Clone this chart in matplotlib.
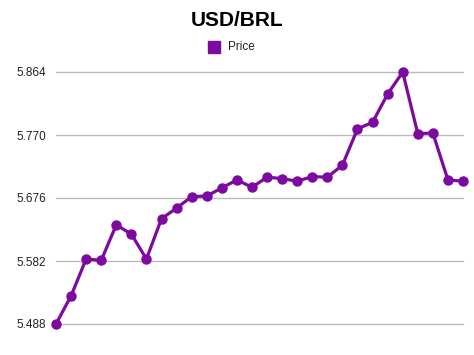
import matplotlib.pyplot as plt

plt.rcParams['font.family'] = ['Liberation Sans', 'DejaVu Sans']

# weekly USD/BRL price
price = [5.488, 5.530, 5.585, 5.583, 5.636, 5.622, 5.585, 5.645, 5.661, 5.678,
         5.679, 5.691, 5.703, 5.692, 5.707, 5.705, 5.701, 5.708, 5.707, 5.725,
         5.779, 5.789, 5.831, 5.864, 5.772, 5.773, 5.703, 5.701]
yticks = [5.488, 5.582, 5.676, 5.770, 5.864]
week = list(range(len(price)))

color = '#7d0a9e'

fig = plt.figure(figsize=(4.74, 3.55), dpi=100)
ax = fig.add_axes([56 / 474, 1 - 324 / 355, (463 - 56) / 474, (324 - 72) / 355])

ax.plot(week, price, color=color, lw=2.3, marker='o', ms=6.5, clip_on=False,
        label='Price', zorder=3)
ax.set_xlim(week[0], week[-1])
ax.set_ylim(yticks[0], yticks[-1])
ax.set_yticks(yticks)
ax.set_yticklabels(['%.3f' % v for v in yticks], fontsize=8.5, color='#222222')
ax.set_xticks([])
ax.tick_params(axis='y', length=0, pad=7)
for v in yticks:
    ax.axhline(v, color='#bbbbbb', lw=1, clip_on=False, zorder=1)
for s in ax.spines.values():
    s.set_visible(False)

fig.text(0.5, 1 - 21 / 355, 'USD/BRL', ha='center', va='center',
         fontsize=15, fontweight='bold')
fig.patches.append(plt.Rectangle((208 / 474, 1 - 53 / 355), 12 / 474, 12 / 355,
                                 transform=fig.transFigure, color=color))
fig.text(228 / 474, 1 - 46.5 / 355, 'Price', ha='left', va='center', fontsize=8.5,
         color='#222222')

fig.savefig('out.png', dpi=100)
